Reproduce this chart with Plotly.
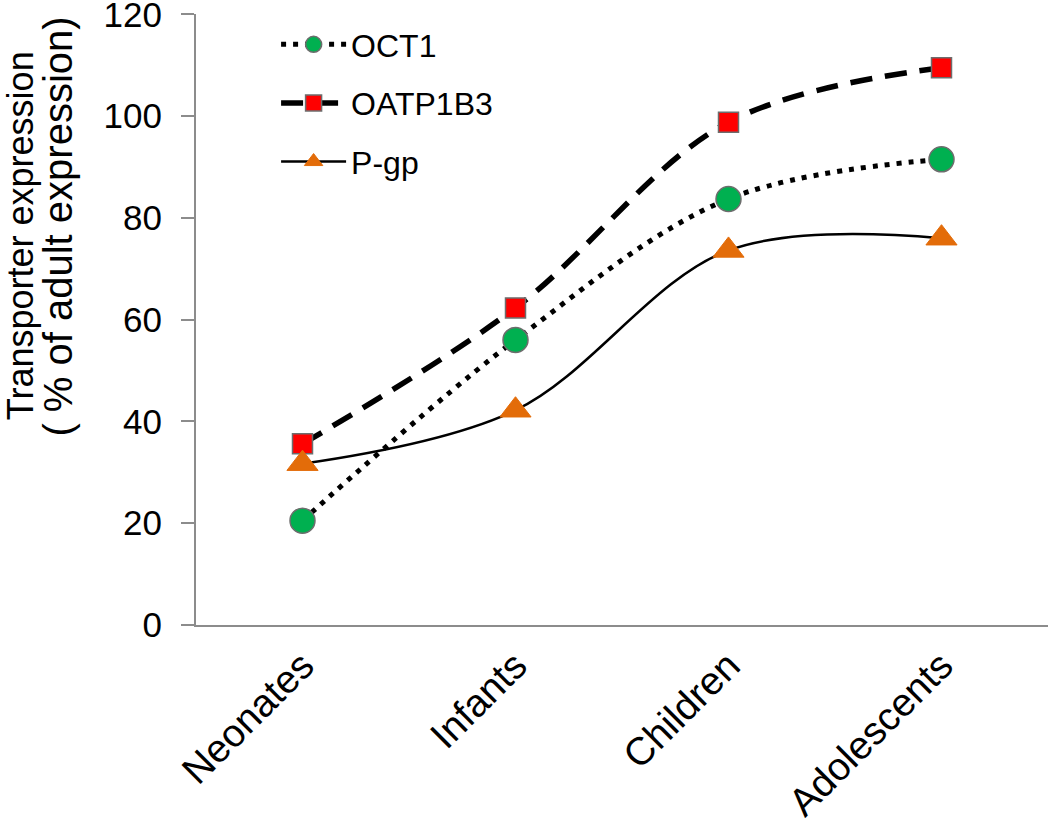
import plotly.graph_objects as go

categories = ["Neonates", "Infants", "Children", "Adolescents"]
oct1 = [20.5, 56, 83.7, 91.5]
oatp1b3 = [35.6, 62.3, 98.8, 109.5]
pgp = [31.7, 42.2, 73.6, 76.0]
y_ticks = [0, 20, 40, 60, 80, 100, 120]
title_lines = ["Transporter expression", "( % of adult expression)"]

fig = go.Figure()
fig.add_trace(go.Scatter(
    x=categories, y=oct1, name="OCT1", mode="lines+markers", legendgroup="a",
    line=dict(color="black", width=5, dash="5px,7px", shape="spline", smoothing=1),
    marker=dict(symbol="circle", size=25, color="#00B050", line=dict(color="#6d6d6d", width=1.5)),
))
fig.add_trace(go.Scatter(
    x=categories, y=oatp1b3, name="OATP1B3", mode="lines+markers", legendgroup="b",
    line=dict(color="black", width=5.5, dash="22px,13px", shape="spline", smoothing=1),
    marker=dict(symbol="square", size=20, color="#FF0000", line=dict(color="#6d6d6d", width=1.5)),
))
fig.add_trace(go.Scatter(
    x=categories, y=pgp, name="P-gp", mode="lines+markers", legendgroup="c",
    line=dict(color="black", width=2.5, shape="spline", smoothing=1),
    marker=dict(symbol="triangle-up", size=27, color="#E36C09", line=dict(color="#E36C09", width=1)),
))

fig.add_annotation(text=title_lines[0], xref="paper", yref="paper", x=-0.2066, y=0.638,
                   textangle=-90, showarrow=False, font=dict(size=36),
                   xanchor="center", yanchor="middle")
fig.add_annotation(text=title_lines[1], xref="paper", yref="paper", x=-0.162, y=0.652,
                   textangle=-90, showarrow=False, font=dict(size=40),
                   xanchor="center", yanchor="middle")

fig.update_layout(
    width=1050, height=819,
    margin=dict(l=196, r=2, t=14, b=194),
    paper_bgcolor="white", plot_bgcolor="white",
    font=dict(family="Liberation Sans, Arial, sans-serif", color="black", size=34),
    showlegend=True,
    legend=dict(x=0.094, y=0.995, xanchor="left", yanchor="top", itemwidth=65,
                font=dict(size=32), tracegroupgap=14, bgcolor="rgba(0,0,0,0)"),
    xaxis=dict(
        type="category", range=[-0.5, 3.5], showline=True, linecolor="#8c8c8c", linewidth=2,
        showgrid=False, ticks="", tickangle=-45, tickfont=dict(size=39), zeroline=False,
        automargin=False, ticklabelstandoff=0, ticklabeloverflow="allow",
    ),
    yaxis=dict(
        range=[0, 120.05], tickvals=y_ticks, showline=True, linecolor="#8c8c8c", linewidth=2,
        showgrid=False, ticks="outside", ticklen=13, tickcolor="#8c8c8c", tickwidth=2,
        tickfont=dict(size=35), zeroline=False, automargin=False, ticklabelstandoff=12,
        ticklabeloverflow="allow",
    ),
)

fig.write_html("out.html", config={"displayModeBar": False},
               post_script="document.body.style.margin='0';")
